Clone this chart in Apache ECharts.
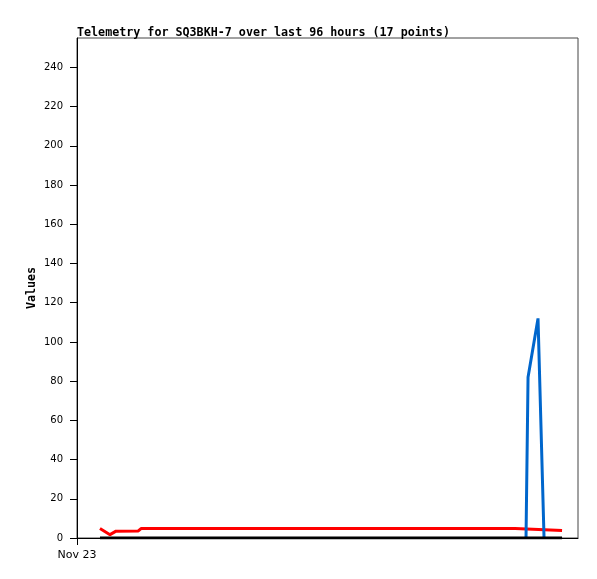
<!DOCTYPE html>
<html>
<head>
<meta charset="utf-8">
<script src="https://cdn.jsdelivr.net/npm/echarts@6/dist/echarts.min.js"></script>
<style>
  html, body { margin: 0; padding: 0; background: #fff; }
  #chart_id { width: 597px; height: 579px; }
</style>
</head>
<body>
<div id="chart_id"></div>
<script>
// hours since Nov 23 00:00
const redHours = [4.77, 6.85, 8.1, 12.73, 13.29, 90.93, 91.34, 100.69];
const redValues = [4.8, 1.7, 3.5, 3.6, 4.8, 4.8, 3.8, 3.8];
const blueHours = [93.21, 93.63, 95.7, 96.95];
const blueValues = [0, 82, 112, 0];
const blackHours = [4.77, 100.69];
const blackValues = [0, 0];
const yTicks = [0, 20, 40, 60, 80, 100, 120, 140, 160, 180, 200, 220, 240];
const xTicks = [0];
const xTickLabels = ['Nov 23'];

function pairs(xs, ys) {
  return xs.map((x, i) => [x, ys[i]]);
}

const myChart = echarts.init(document.getElementById('chart_id'));
const option = {
  animation: false,
  backgroundColor: '#fff',
  title: {
    text: 'Telemetry for SQ3BKH-7 over last 96 hours (17 points)',
    left: 72,
    top: 22,
    textStyle: {
      fontFamily: 'DejaVu Sans Mono',
      fontWeight: 'bold',
      fontSize: 11.7,
      color: '#000',
    },
  },
  grid: {
    left: 77,
    top: 38,
    right: 19,
    bottom: 41,
    show: true,
    borderColor: '#444',
    borderWidth: 1,
  },
  xAxis: {
    type: 'value',
    min: 0,
    max: 104,
    axisLine: { lineStyle: { color: '#000', width: 1 } },
    axisTick: {
      customValues: xTicks,
      length: 7,
      lineStyle: { color: '#000' },
    },
    axisLabel: {
      customValues: xTicks,
      formatter: (v) => xTickLabels[xTicks.indexOf(v)] || '',
      fontFamily: 'DejaVu Sans',
      fontSize: 11,
      color: '#000',
      margin: 12,
    },
    splitLine: { show: false },
  },
  yAxis: {
    type: 'value',
    min: 0,
    max: 255,
    name: 'Values',
    nameLocation: 'middle',
    nameRotate: 90,
    nameGap: 39,
    nameMoveOverlap: false,
    nameTextStyle: {
      fontFamily: 'DejaVu Sans Mono',
      fontWeight: 'bold',
      fontSize: 11.7,
      color: '#000',
    },
    axisLine: { show: true, lineStyle: { color: '#000', width: 1 } },
    axisTick: {
      customValues: yTicks,
      length: 7,
      lineStyle: { color: '#000' },
    },
    axisLabel: {
      customValues: yTicks,
      fontFamily: 'DejaVu Sans',
      fontSize: 10,
      color: '#000',
      margin: 14,
    },
    splitLine: { show: false },
  },
  series: [
    {
      type: 'line',
      data: pairs(redHours, redValues),
      showSymbol: false,
      z: 2,
      lineStyle: { color: '#ff0000', width: 3 },
    },
    {
      type: 'line',
      data: pairs(blueHours, blueValues),
      showSymbol: false,
      z: 3,
      lineStyle: { color: '#0066cc', width: 3 },
    },
    {
      type: 'line',
      data: pairs(blackHours, blackValues),
      showSymbol: false,
      z: 4,
      lineStyle: { color: '#000', width: 3 },
    },
  ],
};
myChart.setOption(option);
window.onresize = myChart.resize;
</script>
</body>
</html>
